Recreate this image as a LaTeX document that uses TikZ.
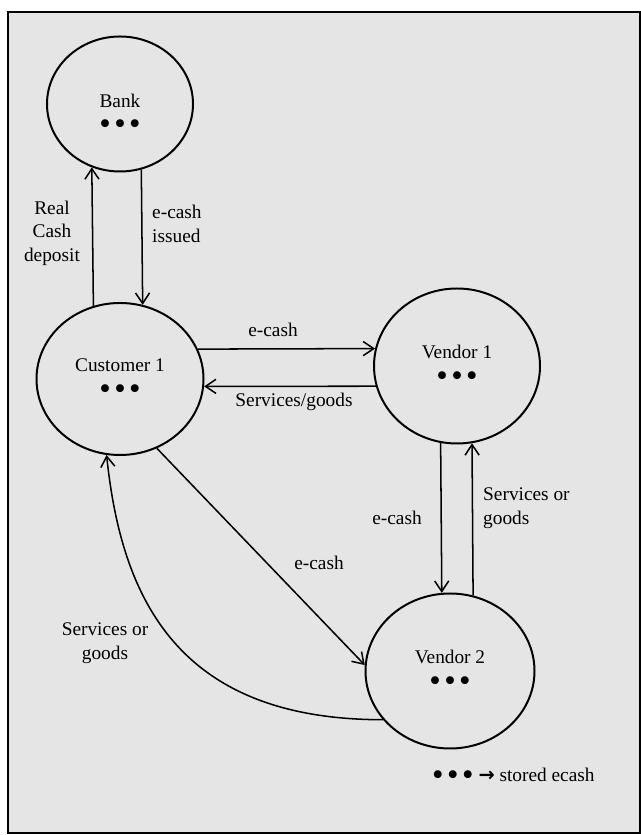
\documentclass[tikz,border=0pt]{standalone}
\usepackage{fontspec}
\setmainfont{Liberation Serif}
\newfontfamily\arrowfont{DejaVu Sans}
\usepackage{tikz}
\usetikzlibrary{arrows.meta,shapes.geometric}
\definecolor{paperbg}{gray}{0.90}
\newcommand{\ecdot}{\raisebox{-3.5pt}{\fontsize{28}{20}\selectfont\textbullet}}
\newcommand{\ecdots}{\ecdot\hspace{3pt}\ecdot\hspace{3pt}\ecdot}

\begin{document}
\begin{tikzpicture}[x=0.03cm, y=0.03cm,
      party/.style={draw, ellipse, line width=1.7pt, inner sep=0pt,
                    minimum width=5.0cm, minimum height=4.62cm,
                    font=\fontsize{16.5}{20}\selectfont, align=center},
      lbl/.style={font=\fontsize{16.5}{20}\selectfont, inner sep=0pt},
      arr/.style={-{Straight Barb[length=9pt, width=12pt, line width=1.3pt]},
                  line width=1.3pt}
  ]
    \useasboundingbox (0,0) rectangle (641,835);
    \draw[line width=1.6pt, fill=paperbg] (8,823) rectangle (640,2);

    \node[party, minimum width=4.38cm, minimum height=4.05cm] (bank) at (120,731) {\rule{0pt}{29pt}Bank\\ \ecdots};
    \node[party, minimum width=5.01cm, minimum height=4.56cm] (cust) at (120,456) {Customer 1\\ \ecdots};
    \node[party, minimum width=4.98cm, minimum height=4.65cm] (vend1) at (457,469) {Vendor 1\\ \ecdots};
    \node[party, minimum width=5.07cm, minimum height=4.65cm] (vend2) at (450,164) {Vendor 2\\ \ecdots};

    % customer <-> bank
    \draw[arr] (cust.110.6) -- (bank.246.7);
    \draw[arr] (bank.288.9) -- (cust.73.3);
    \node[lbl, align=center] (lbldep) at (52,602) {Real\\ Cash\\ deposit};
    \node[lbl, align=left, anchor=west] (lbliss) at (152,611) {e-cash\\ issued};

    % customer <-> vendor 1
    \draw[arr] (cust.21.4) -- (vend1.168.15);
    \draw[arr] (vend1.194.7) -- (cust.-5.5);
    \node[lbl] (lblc1) at (273,505) {e-cash};
    \node[lbl] (lblsg) at (294,433) {Services/goods};

    % vendor 1 <-> vendor 2
    \draw[arr] (vend1.258.1) -- (vend2.96.7);
    \draw[arr] (vend2.73.6) -- (vend1.281.1);
    \node[lbl] (lblv12) at (397,317) {e-cash};
    \node[lbl, align=left, anchor=west] (lblv21) at (483,327) {Services or\\ goods};

    % customer <-> vendor 2
    \draw[arr] (cust.-62.5) -- (vend2.176.6);
    \draw[arr] (vend2.216.6) .. controls +(-204,0) and +(15,-145) .. (cust.260.3);
    \node[lbl] (lblc2) at (319,272) {e-cash};
    \node[lbl, align=center] (lblv2c) at (105,192) {Services or\\ goods};

    \node[lbl, anchor=west] (legend) at (432,58) {\ecdots\ {\arrowfont\bfseries →} stored ecash};
  \end{tikzpicture}
\end{document}
